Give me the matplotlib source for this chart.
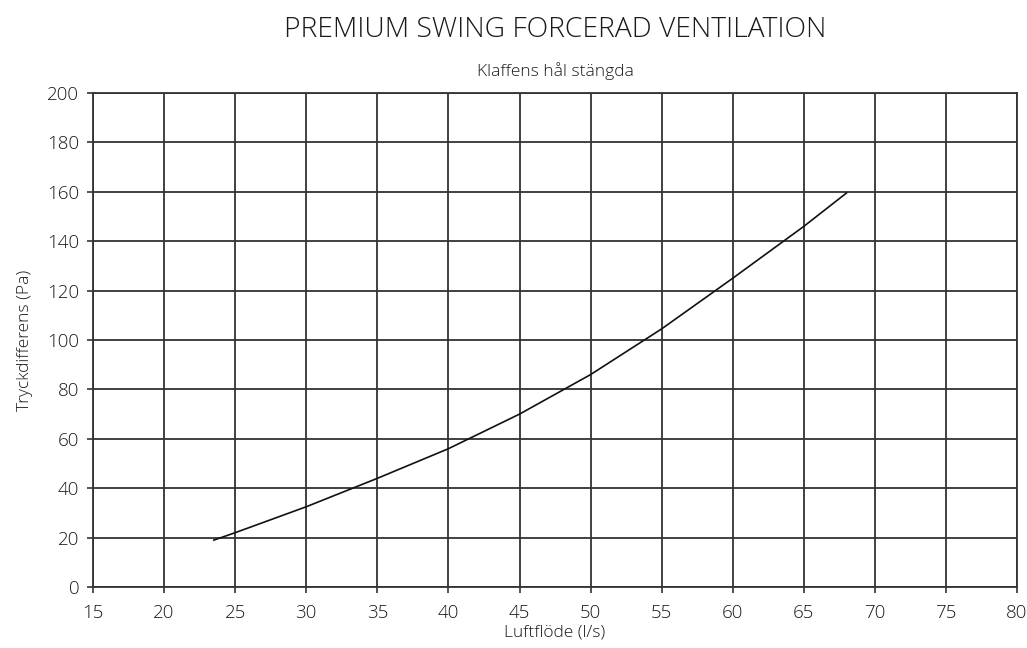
import matplotlib
matplotlib.use('Agg')
import matplotlib.pyplot as plt

# Data
flow = [23.5, 25, 30, 35, 40, 45, 50, 55, 60, 65, 68]
pressure = [19, 22, 32.5, 44, 56, 70, 86, 104.5, 125, 146, 159.5]
x_ticks = list(range(15, 81, 5))
y_ticks = list(range(0, 201, 20))

plt.rcParams['font.family'] = ['Open Sans', 'DejaVu Sans']
plt.rcParams['font.weight'] = 'light'
plt.rcParams['axes.labelweight'] = 'light'
txt = '#1a1a1a'

fig = plt.figure(figsize=(10.27, 6.48), dpi=100)
ax = fig.add_axes([0.0906, 0.0941, 0.8997, 0.7624])

ax.plot(flow, pressure, color='#111111', lw=1.2)

ax.set_xlim(15, 80)
ax.set_ylim(0, 200)
ax.set_xticks(x_ticks)
ax.set_yticks(y_ticks)
ax.grid(True, color='#333333', lw=1.3)
ax.set_axisbelow(True)
for s in ax.spines.values():
    s.set_color('#333333')
    s.set_linewidth(1.3)
ax.tick_params(colors='#333333', labelcolor=txt, labelsize=13.5, length=4, width=1.2)
ax.tick_params(axis='x', pad=8)
ax.tick_params(axis='y', pad=6)

ax.set_xlabel('Luftflöde (l/s)', fontsize=12.5, color=txt, labelpad=2)
ax.set_ylabel('Tryckdifferens (Pa)', fontsize=12.5, color=txt, labelpad=10)

fig.text(0.541, 0.954, 'PREMIUM SWING FORCERAD VENTILATION', ha='center', va='center',
         fontsize=20.3, color=txt)
fig.text(0.541, 0.890, 'Klaffens hål stängda', ha='center', va='center',
         fontsize=12.5, color=txt)

fig.savefig('out.png', dpi=100)
